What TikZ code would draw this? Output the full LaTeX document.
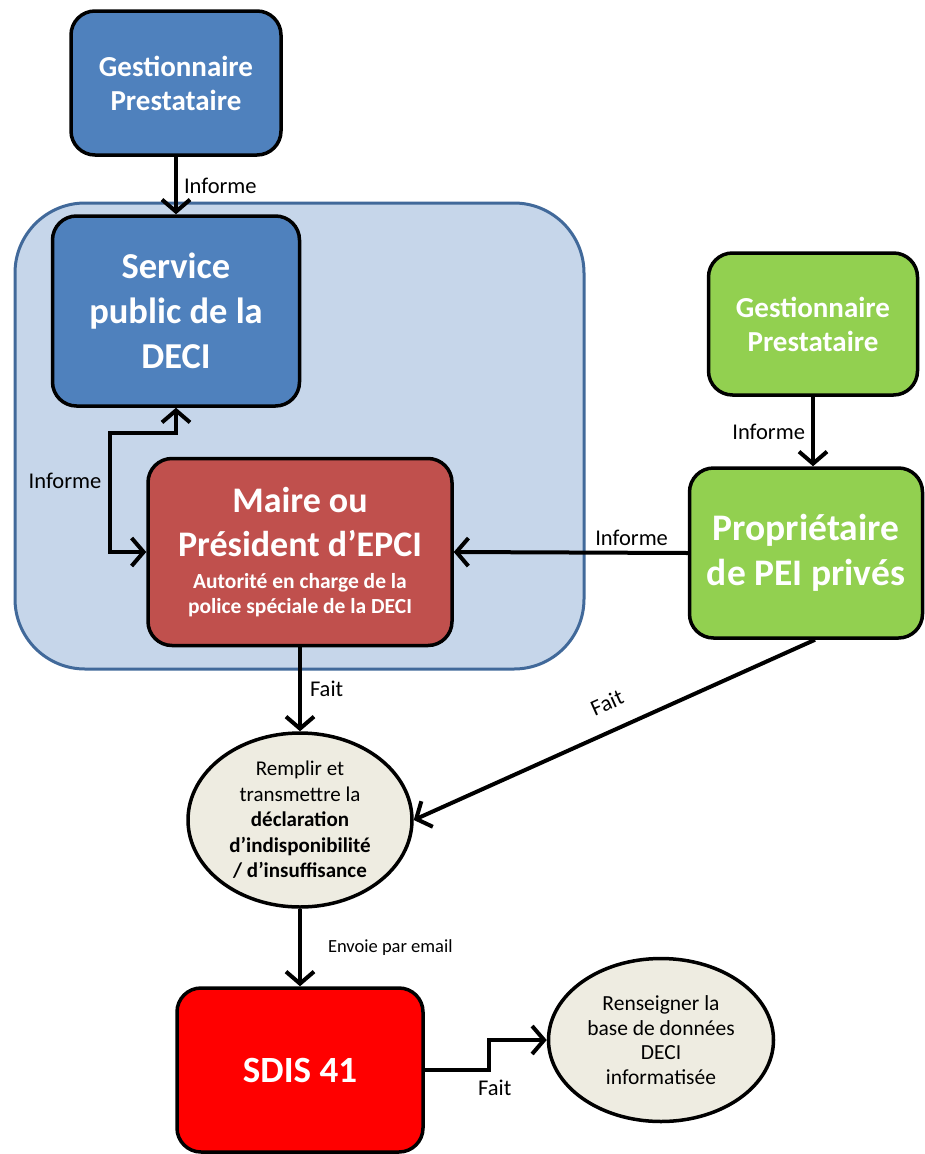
\documentclass[tikz,border=0pt]{standalone}
\usepackage{fontspec}
\setmainfont{Carlito}
\usepackage{xcolor}
\usepackage{tikz}
\usetikzlibrary{arrows.meta,shapes.geometric}

\definecolor{deciblue}{HTML}{4F81BD}
\definecolor{decired}{HTML}{C0504D}
\definecolor{decigreen}{HTML}{92D050}
\definecolor{decipale}{HTML}{C6D6EA}
\definecolor{deciframe}{HTML}{41699A}
\definecolor{decioval}{HTML}{EEECE1}

\tikzset{
    block/.style={
        rounded corners=24pt,
        draw=black,
        line width=3.5pt,
        text=white,
        inner sep=0pt,
        align=center,
        font=\bfseries
    },
    ovalnote/.style={
        ellipse,
        draw=black,
        line width=3.5pt,
        fill=decioval,
        inner sep=0pt,
        align=center,
        font=\fontsize{21}{25.5}\selectfont
    },
    flow/.style={
        line width=4pt,
        -{Straight Barb[length=12pt,width=28pt]}
    },
    lbl/.style={
        font=\fontsize{22.5}{26}\selectfont,
        inner sep=2pt
    }
}

\begin{document}
\begin{tikzpicture}[x=1pt,y=-1pt]
    \useasboundingbox (0,0) rectangle (924,1154);

    % zone du service public
    \node[
        draw=deciframe,
        fill=decipale,
        line width=3pt,
        rounded corners=70pt,
        minimum width=569pt,
        minimum height=466pt
    ] (zone) at (299.5,436) {};

    % blocs
    \node[block, fill=deciblue, minimum width=210pt, minimum height=144pt,
          font=\bfseries\fontsize{29}{34}\selectfont]
        (gestpub) at (176,83) {Gestionnaire\\Prestataire};
    \node[block, fill=deciblue, minimum width=247pt, minimum height=190pt,
          font=\bfseries\fontsize{36.5}{45}\selectfont]
        (service) at (176,311) {Service\\public de la\\DECI};
    \node[block, fill=decired, minimum width=304pt, minimum height=187pt,
          text width=300pt, align=flush center]
        (maire) at (300,552) {%
        {\fontsize{36}{44}\selectfont Maire ou\\Président d’EPCI\par}
        \vskip 7pt
        {\fontsize{21.5}{25}\selectfont Autorité en charge de la\\police spéciale de la DECI\par}};
    \node[block, fill=decigreen, minimum width=209pt, minimum height=142pt,
          font=\bfseries\fontsize{29}{34}\selectfont]
        (gestpriv) at (813,324) {Gestionnaire\\Prestataire};
    \node[block, fill=decigreen, minimum width=233pt, minimum height=170pt,
          font=\bfseries\fontsize{37.5}{45}\selectfont]
        (proprio) at (806,553) {Propriétaire\\de PEI privés};
    \node[block, fill=red, minimum width=246pt, minimum height=164pt,
          font=\bfseries\fontsize{37}{44}\selectfont]
        (sdis) at (300,1070) {SDIS 41};

    % ovales
    \node[ovalnote, minimum width=224pt, minimum height=174pt] (declaration) at (300,820)
        {Remplir et\\transmettre la\\\textbf{déclaration}\\\textbf{d’indisponibilité}\\\textbf{/ d’insuffisance}};
    \node[ovalnote, font=\fontsize{21.5}{24.5}\selectfont, minimum width=225pt, minimum height=163pt]
        (base) at (661,1040) {Renseigner la\\base de données\\DECI\\informatisée};

    \coordinate (coude) at (110,433);

    % liaisons
    \draw[flow] (gestpub) -- node[lbl, right, xshift=4pt] {Informe} (service);
    \draw[line width=4pt, {Straight Barb[length=12pt,width=28pt]}-{Straight Barb[length=12pt,width=28pt]}]
        (service.south) |- (coude) |- (maire.west);
    \node[lbl] (infoservice) at (65,481) {Informe};
    \draw[flow] (gestpriv.south) -- node[lbl, left, xshift=-4pt] {Informe} (gestpriv.south |- proprio.north);
    \draw[flow] (proprio.west) -- node[lbl, above, pos=0.24, yshift=3pt] {Informe} (maire.east);
    \draw[flow] (maire.south) -- node[lbl, right, xshift=6pt] {Fait} (declaration.north);
    \draw[flow] ([xshift=9pt]proprio.south) -- node[lbl, above, sloped, pos=0.49, yshift=16pt] {Fait} (declaration.east);
    \draw[flow] (declaration.south) -- node[lbl, right, xshift=24pt, font=\fontsize{18.5}{22}\selectfont] {Envoie par email} (sdis.north);
    \draw[flow] (sdis.east) -- ++(64,0) node[lbl, below, xshift=6pt, yshift=-6pt] (faitbase) {Fait} |- (base.west);
\end{tikzpicture}
\end{document}
